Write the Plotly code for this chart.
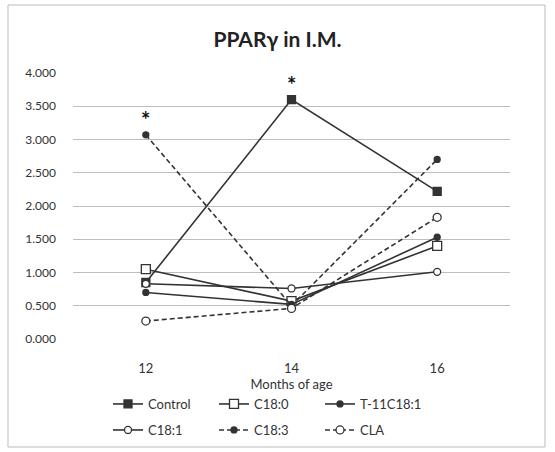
import plotly.graph_objects as go

months = ["12", "14", "16"]
control = [0.85, 3.60, 2.22]
c180 = [1.05, 0.57, 1.40]
t11c181 = [0.70, 0.52, 1.53]
c181 = [0.83, 0.76, 1.01]
c183 = [3.07, 0.50, 2.70]
cla = [0.27, 0.46, 1.83]
star_x = ["12", "14"]
star_y = [3.07, 3.60]

LC = "#333333"
DASH = "5px,3px"
series = [
    ("Control", control, "square", 8, LC, "solid", "legend"),
    ("C18:0", c180, "square", 9, "white", "solid", "legend"),
    ("T-11C18:1", t11c181, "circle", 6, LC, "solid", "legend"),
    ("C18:1", c181, "circle", 7, "white", "solid", "legend2"),
    ("C18:3", c183, "circle", 6, LC, DASH, "legend2"),
    ("CLA", cla, "circle", 8, "white", DASH, "legend2"),
]

fig = go.Figure()
for name, vals, sym, sz, fill, dash, leg in series:
    fig.add_trace(go.Scatter(
        x=months, y=vals, name=name, mode="lines+markers", legend=leg,
        line=dict(color=LC, width=1.6, dash=dash),
        marker=dict(symbol=sym, size=sz, color=fill,
                    line=dict(color=LC, width=1.3)),
    ))

for sx, sy in zip(star_x, star_y):
    fig.add_annotation(x=months.index(sx), y=sy, text="<b>*</b>", showarrow=False,
                       yshift=15, font=dict(size=22, color="#111"))

W, H = 555, 452
ml, mr, mt, mb = 73, 45, 73, 113
pw, ph = W - ml - mr, H - mt - mb

def px2paper(x, y):
    return (x - ml) / pw, (H - mb - y) / ph

x0, y0 = px2paper(8, 447)
x1, y1 = px2paper(545, 5)
fig.add_shape(type="rect", xref="paper", yref="paper", x0=x0, y0=y0, x1=x1, y1=y1,
              line=dict(color="#bbbbbb", width=1), layer="below")

leg_common = dict(orientation="h", xanchor="left", yanchor="top", entrywidth=61,
                  font=dict(size=13, color="#333"), itemwidth=30, tracegroupgap=0,
                  bgcolor="rgba(0,0,0,0)")
lx = px2paper(108, 0)[0]

fig.update_layout(
    width=W, height=H,
    margin=dict(l=ml, r=mr, t=mt, b=mb, autoexpand=False),
    paper_bgcolor="white", plot_bgcolor="white",
    font=dict(family="Lato, Open Sans, sans-serif", color="#404040", size=12),
    title=dict(text="<b>PPARγ in I.M.</b>", x=0.5, xanchor="center",
               y=(H - 40) / H, yanchor="middle",
               font=dict(size=21, color="#222")),
    xaxis=dict(type="category", range=[-0.5, 2.5], showgrid=False, zeroline=False, showline=False,
               ticks="", ticklabelstandoff=20, tickfont=dict(size=13, color="#333"),
               title=dict(text="Months of age", standoff=4, font=dict(size=13, color="#333"))),
    yaxis=dict(range=[0, 4], dtick=0.5, tickformat=".3f", showgrid=True,
               gridcolor="#bdbdbd", gridwidth=1, zeroline=False, showline=False,
               ticks="", ticklabelstandoff=16, tickfont=dict(size=12, color="#333")),
    legend=dict(x=lx, y=px2paper(0, 389)[1], **leg_common),
    legend2=dict(x=lx, y=px2paper(0, 415)[1], **leg_common),
    showlegend=True,
)

fig.write_html("out.html")
